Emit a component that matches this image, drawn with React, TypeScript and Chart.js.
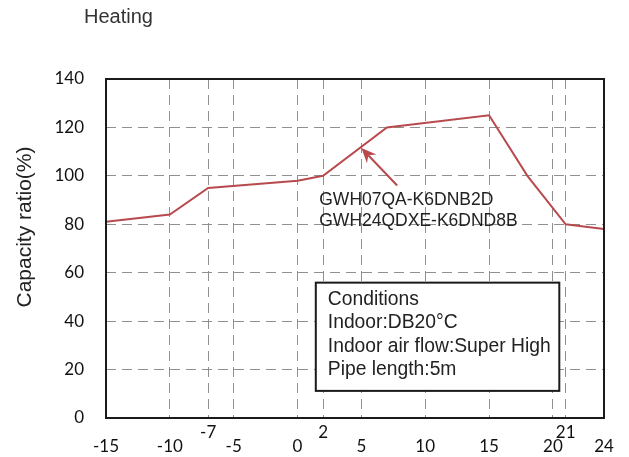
import React, { useEffect, useRef } from "react";
import { Chart, registerables } from "chart.js";
Chart.register(...registerables);

const temps = [-15, -10, -7, 0, 2, 7, 15, 18, 21, 24];
const capacity = [81, 84, 95, 98, 100, 120, 125, 100, 80, 78];
const xGridValues = [-15, -10, -7, -5, 0, 2, 5, 10, 15, 20, 21, 24];
const xLowerLabels = [-15, -10, -5, 0, 5, 10, 15, 20, 24];
const xUpperLabels = [-7, 2, 21];
const yMin = 0;
const yMax = 140;
const yStep = 20;
const chartTitle = "Heating";
const yTitle = "Capacity ratio(%)";
const modelNames = ["GWH07QA-K6DNB2D", "GWH24QDXE-K6DND8B"];
const conditionLines = ["Conditions", "Indoor:DB20°C", "Indoor air flow:Super High", "Pipe length:5m"];

// annotation anchors in data units
const arrowHead = { x: 5, y: 111.5 };
const arrowTail = { x: 7.8, y: 96 };
const modelTextAnchor = { x: 1.7, y: 89.8 };
const condBox = { x1: 1.43, x2: 20.5, y1: 55.9, y2: 11.2 };

const LINE_COLOR = "#b84a4e";
const SANS = "'Liberation Sans', Arial, sans-serif";
const TICK_FONT = "Lato, 'Liberation Sans', sans-serif";

const overlay = {
  id: "overlay",
  afterDraw(chart: any) {
    const { ctx, chartArea, scales } = chart;
    const xs = scales.x;
    const ys = scales.y;
    ctx.save();

    // plot border
    ctx.strokeStyle = "#1a1a1a";
    ctx.lineWidth = 2;
    ctx.strokeRect(chartArea.left, chartArea.top, chartArea.right - chartArea.left, chartArea.bottom - chartArea.top);

    // arrow
    const hx = xs.getPixelForValue(arrowHead.x);
    const hy = ys.getPixelForValue(arrowHead.y);
    const tx = xs.getPixelForValue(arrowTail.x);
    const ty = ys.getPixelForValue(arrowTail.y);
    const ang = Math.atan2(hy - ty, hx - tx);
    ctx.strokeStyle = LINE_COLOR;
    ctx.fillStyle = LINE_COLOR;
    ctx.lineWidth = 2;
    const L = 15, W = 6.5, notch = 10;
    ctx.beginPath();
    ctx.moveTo(tx, ty);
    ctx.lineTo(hx - Math.cos(ang) * notch, hy - Math.sin(ang) * notch);
    ctx.stroke();
    ctx.beginPath();
    ctx.moveTo(hx, hy);
    ctx.lineTo(hx - Math.cos(ang) * L - Math.sin(ang) * W, hy - Math.sin(ang) * L + Math.cos(ang) * W);
    ctx.lineTo(hx - Math.cos(ang) * notch, hy - Math.sin(ang) * notch);
    ctx.lineTo(hx - Math.cos(ang) * L + Math.sin(ang) * W, hy - Math.sin(ang) * L - Math.cos(ang) * W);
    ctx.closePath();
    ctx.fill();

    // model names
    ctx.fillStyle = "#222";
    ctx.font = `17.5px ${SANS}`;
    ctx.textAlign = "left";
    ctx.textBaseline = "middle";
    const mx = xs.getPixelForValue(modelTextAnchor.x);
    const my = ys.getPixelForValue(modelTextAnchor.y);
    modelNames.forEach((t, i) => ctx.fillText(t, mx, my + i * 21));

    // conditions box
    const bx1 = xs.getPixelForValue(condBox.x1);
    const bx2 = xs.getPixelForValue(condBox.x2);
    const by1 = ys.getPixelForValue(condBox.y1);
    const by2 = ys.getPixelForValue(condBox.y2);
    ctx.fillStyle = "#fff";
    ctx.fillRect(bx1, by1, bx2 - bx1, by2 - by1);
    ctx.strokeStyle = "#1a1a1a";
    ctx.lineWidth = 2;
    ctx.strokeRect(bx1, by1, bx2 - bx1, by2 - by1);
    ctx.fillStyle = "#222";
    ctx.font = `19.3px ${SANS}`;
    conditionLines.forEach((t, i) => ctx.fillText(t, bx1 + 12, by1 + 17 + i * 23.3));

    // heading
    ctx.fillStyle = "#333";
    ctx.font = `20px ${SANS}`;
    ctx.fillText(chartTitle, 84, 17);

    // y title
    ctx.save();
    ctx.translate(25, 227);
    ctx.rotate(-Math.PI / 2);
    ctx.textAlign = "center";
    ctx.fillStyle = "#222";
    ctx.font = `21px ${SANS}`;
    ctx.fillText(yTitle, 0, 0);
    ctx.restore();

    ctx.restore();
  },
};

export default function App() {
  const ref = useRef<HTMLCanvasElement>(null);
  useEffect(() => {
    const chart = new Chart(ref.current!, {
      type: "line",
      data: {
        datasets: [
          {
            data: temps.map((t, i) => ({ x: t, y: capacity[i] })),
            borderColor: LINE_COLOR,
            borderWidth: 2,
            pointRadius: 0,
            tension: 0,
            fill: false,
          },
        ],
      },
      options: {
        animation: false,
        responsive: false,
        layout: { padding: { top: 79, right: 25, left: 0, bottom: 0 } },
        plugins: { legend: { display: false }, tooltip: { enabled: false }, title: { display: false } },
        scales: {
          x: {
            type: "linear",
            min: temps[0],
            max: temps[temps.length - 1],
            afterBuildTicks: (s: any) => {
              s.ticks = xGridValues.map((v) => ({ value: v }));
            },
            afterFit: (s: any) => {
              s.height = 39;
            },
            grid: {
              drawTicks: false,
              lineWidth: 1,
              color: (c: any) =>
                c.tick && (c.tick.value === temps[0] || c.tick.value === temps[temps.length - 1]) ? "rgba(0,0,0,0)" : "#8f8f8f",
            },
            border: { display: false, dash: [10, 6] },
            ticks: {
              autoSkip: false,
              maxRotation: 0,
              minRotation: 0,
              padding: 8,
              color: "#111",
              font: { family: TICK_FONT, size: 17, lineHeight: 0.82 },
              callback: (v: any) => {
                const n = Number(v);
                if (xUpperLabels.includes(n)) return [String(n), ""];
                if (xLowerLabels.includes(n)) return ["", String(n)];
                return "";
              },
            },
          },
          y: {
            min: yMin,
            max: yMax,
            afterFit: (s: any) => {
              s.width = 106;
            },
            grid: {
              drawTicks: false,
              lineWidth: 1,
              color: (c: any) =>
                c.tick && (c.tick.value === yMin || c.tick.value === yMax) ? "rgba(0,0,0,0)" : "#8f8f8f",
            },
            border: { display: false, dash: [10, 6] },
            ticks: {
              stepSize: yStep,
              padding: 22,
              color: "#111",
              font: { family: TICK_FONT, size: 17 },
            },
          },
        },
      },
      plugins: [overlay],
    });
    return () => chart.destroy();
  }, []);
  return (
    <div style={{ position: "fixed", left: 0, top: 0, width: 629, height: 457, background: "#fff" }}>
      <canvas ref={ref} width={629} height={457} style={{ display: "block" }} />
    </div>
  );
}
